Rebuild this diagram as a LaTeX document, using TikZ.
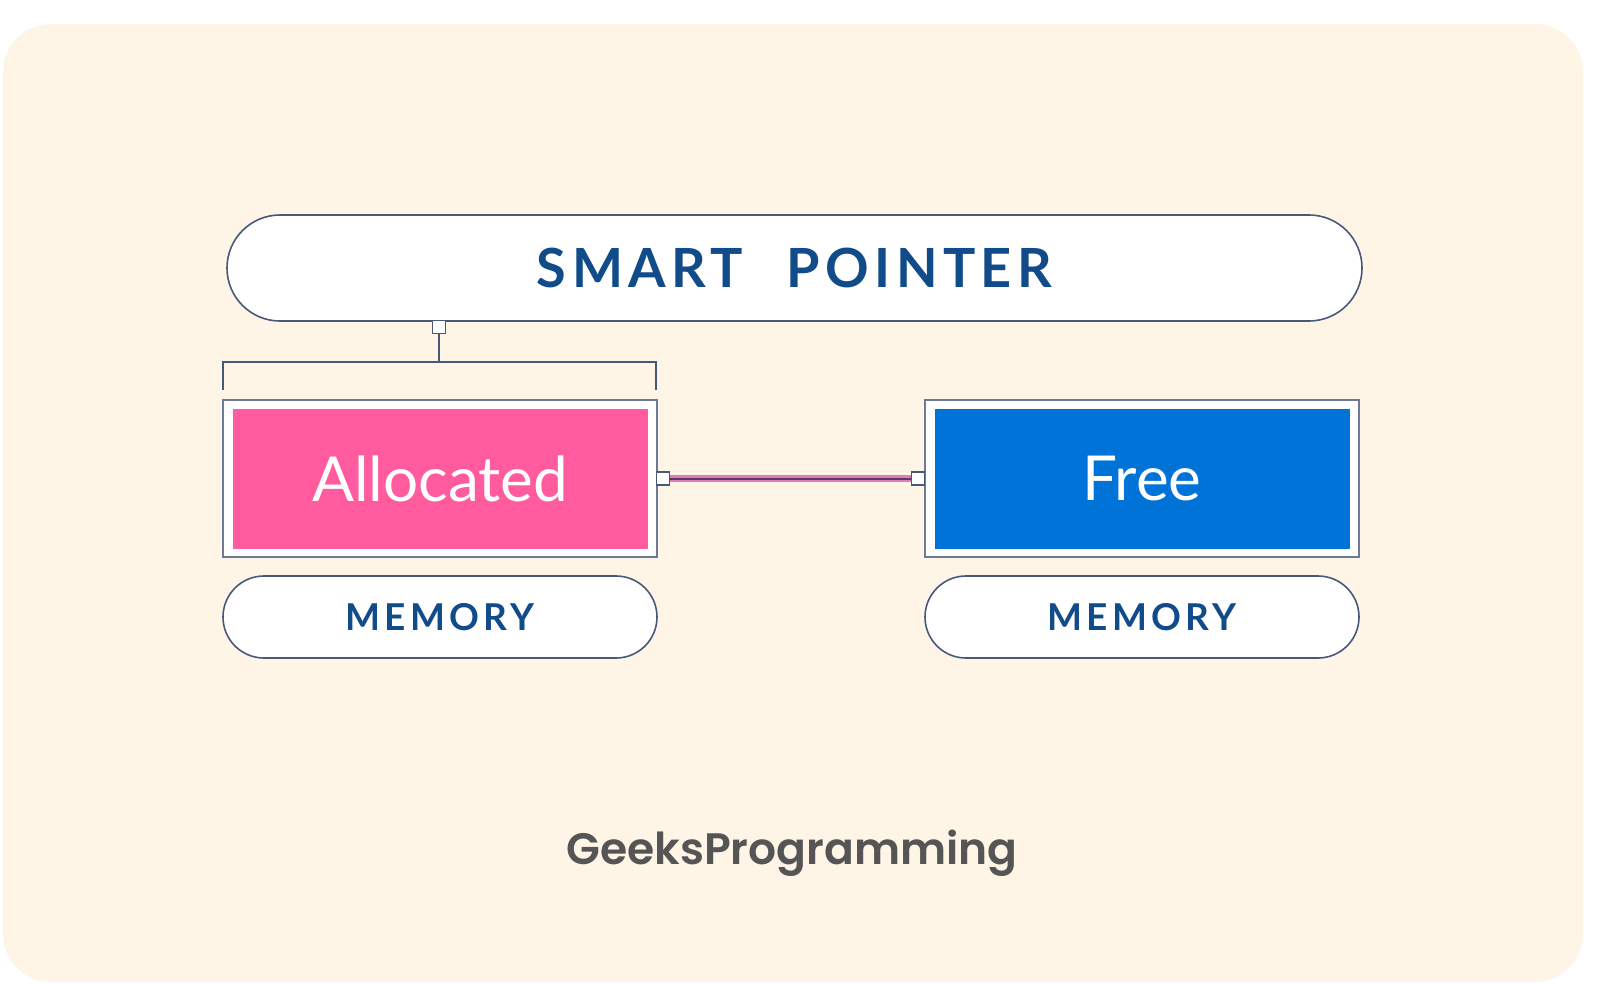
\documentclass[tikz,border=0pt]{standalone}
\usepackage{fontspec}
\setmainfont{Lato}
\newfontfamily\poppfont{Poppins SemiBold}
\usetikzlibrary{positioning}
\definecolor{bgc}{HTML}{FEF5E7}
\definecolor{navy}{HTML}{124B8A}
\definecolor{edge}{HTML}{48587A}
\definecolor{pinkc}{HTML}{FF5B9E}
\definecolor{bluec}{HTML}{0073D8}
\definecolor{glow}{HTML}{E27DB8}
\definecolor{wire}{HTML}{5A3A66}
\definecolor{brand}{HTML}{555555}
\tikzset{
  pill/.style={draw=edge, line width=1.6pt, fill=white, inner sep=0pt},
  frame/.style={draw=edge!80, line width=1.4pt, fill=white, inner sep=0pt},
  core/.style={inner sep=0pt, text=white, font=\fontsize{62}{62}\selectfont},
  port/.style={draw=edge, line width=1.2pt, fill=white, minimum size=13pt, inner sep=0pt},
  link/.style={draw=edge, line width=1.5pt},
  memtext/.style={text=navy, font=\fontsize{37}{37}\selectfont\bfseries\addfontfeature{LetterSpace=12}},
}
\begin{document}
\begin{tikzpicture}[x=1pt,y=-1pt]
\useasboundingbox (0,0) rectangle (1600,983);
\fill[white] (0,0) rectangle (1600,983);
\fill[bgc, rounded corners=48pt] (3,24) rectangle (1583,982);

% Smart pointer pill
\node[pill, minimum width=1135pt, minimum height=106pt, rounded corners=53pt,
      text=navy, font=\fontsize{54}{54}\selectfont\bfseries\addfontfeature{LetterSpace=10}]
  (sp) at (794.5,268) {SMART\hspace{44pt}POINTER};

% Allocated
\node[frame, minimum width=434pt, minimum height=157pt] (aframe) at (440,478.5) {};
\node[core, fill=pinkc, minimum width=415pt, minimum height=140pt] (alloc) at (aframe.center) {Allocated};

% Free
\node[frame, minimum width=434pt, minimum height=157pt] (fframe) at (1142,478.5) {};
\node[core, fill=bluec, minimum width=415pt, minimum height=140pt] (free) at (fframe.center) {Free};

% Memory pills
\node[pill, memtext, minimum width=434pt, minimum height=82pt, rounded corners=41pt]
  (mem1) at (440,617) {MEMORY};
\node[pill, memtext, minimum width=434pt, minimum height=82pt, rounded corners=41pt]
  (mem2) at (1142,617) {MEMORY};

% top connector
\node[port] (tsq) at (439,327) {};
\coordinate (btop) at (439,362);
\coordinate (bl) at (223,390);
\coordinate (br) at (656,390);
\draw[link] (tsq.south) -- (btop);
\draw[link] (bl) -- (bl |- btop) -- (br |- btop) -- (br);

% side connector
\node[port] (lsq) at ([xshift=5pt]aframe.east) {};
\node[port] (rsq) at ([xshift=-6pt]fframe.west) {};
\draw[glow, line width=7pt] (lsq.east) -- (rsq.west);
\draw[wire, line width=2pt] (lsq.east) -- (rsq.west);

% brand
\node[anchor=base, text=brand, font=\poppfont\fontsize{44}{44}\selectfont] (brandtxt) at (792,864) {GeeksProgramming};
\end{tikzpicture}
\end{document}
